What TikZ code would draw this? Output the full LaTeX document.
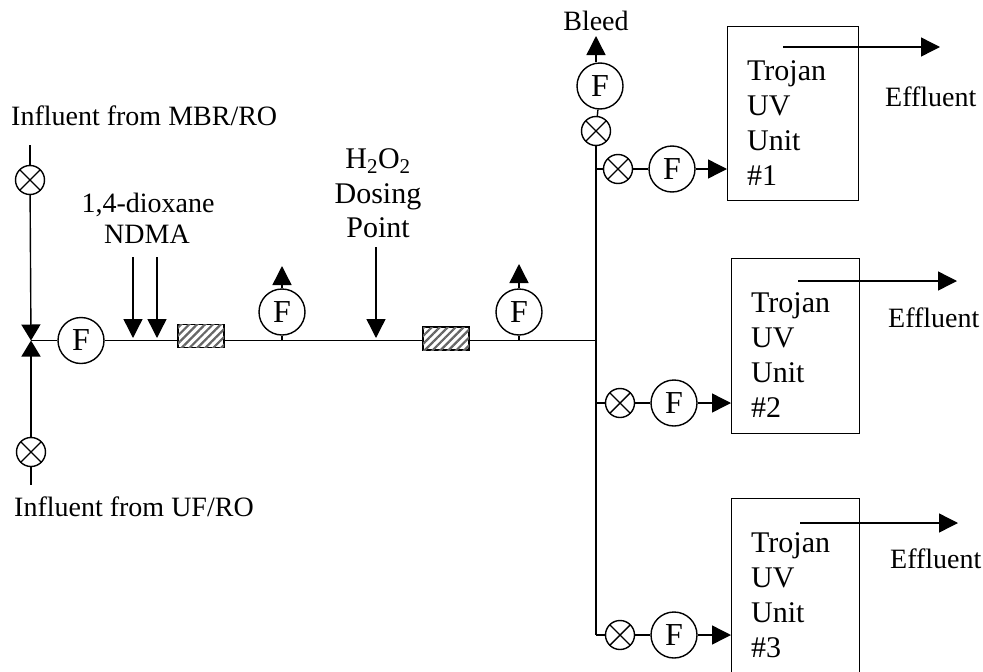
\documentclass[tikz,border=0pt]{standalone}
\usepackage{fontspec}
\setmainfont{Liberation Serif}
\usetikzlibrary{arrows.meta,patterns.meta}
\tikzset{
  pipe/.style={line width=1.4pt},
  flow/.style={pipe,-{Triangle[width=19pt,length=19pt]}},
  seat/.style={pipe,-{Triangle[width=19pt,length=16pt]}},
  fmeter/.style={circle,draw,line width=1.4pt,minimum size=46pt,inner sep=0pt,font=\fontsize{32}{34}\selectfont},
  xvalve/.style={circle,draw,line width=1.4pt,minimum size=29pt,inner sep=0pt,
    path picture={\draw[line width=1.4pt] (path picture bounding box.north west) -- (path picture bounding box.south east)
      (path picture bounding box.north east) -- (path picture bounding box.south west);}},
  mixer/.style={rectangle,draw,line width=1.4pt,minimum width=46pt,minimum height=23pt,inner sep=0pt,
    postaction={pattern={Lines[angle=45,distance=5.6pt,line width=2.2pt]},pattern color=black!60}},
  unitbox/.style={rectangle,draw,line width=1.4pt,anchor=north west,inner sep=0pt},
  unittext/.style={anchor=north west,align=left,inner sep=0pt,font=\fontsize{30}{35}\selectfont},
  lbl/.style={inner sep=0pt,font=\fontsize{28}{31}\selectfont},
  dosetext/.style={inner sep=0pt,align=center,font=\fontsize{30}{34}\selectfont}
}
\begin{document}
\begin{tikzpicture}[x=1pt,y=-1pt]
\useasboundingbox (0,0) rectangle (983,672);
\clip (0,0) rectangle (983,672);
% influent lines
\node[lbl,anchor=base west] (mbrlabel) at (11,125) {Influent from MBR/RO};
\node[lbl,anchor=base west] (uflabel) at (14,516) {Influent from UF/RO};
\coordinate (mbrtop) at (30,145);
\coordinate (ufend) at (31,485);
\node[xvalve] (mbrvalve) at (30,180) {};
\node[xvalve] (ufvalve) at (31,452) {};
\coordinate (junc) at (31,340.5);
\draw[pipe] (mbrtop) -- (mbrvalve);
\draw[pipe] (ufvalve) -- (ufend);
\draw[seat] (mbrvalve) -- (junc);
\draw[seat] (ufvalve) -- (junc);
% main line
\node[fmeter] (fma) at (81,340.5) {F};
\node[mixer] (mixa) at (201,336) {};
\node[fmeter] (fmb) at (282,312) {F};
\node[mixer] (mixb) at (446,338.5) {};
\node[fmeter] (fmc) at (519,312) {F};
\coordinate (tee) at (596,340.5);
\coordinate (dioxdrop) at (133,338);
\coordinate (ndmadrop) at (157,338);
\coordinate (dosedrop) at (376,338);
\coordinate (taponb) at (282,340.5);
\coordinate (taponc) at (519,340.5);
\draw[pipe] (junc) -- (fma);
\draw[pipe] (fma) -- (mixa.west |- fma);
\draw[pipe] (mixa.east |- taponb) -- (taponb);
\draw[pipe] (taponb) -- (mixb.west |- tee);
\draw[pipe] (mixb.east |- tee) -- (tee);
\draw[pipe] (taponb) -- (fmb);
\draw[pipe] (taponc) -- (fmc);
\coordinate (upb) at (282,266);
\coordinate (upc) at (519,264);
\draw[flow] (fmb) -- (upb);
\draw[flow] (fmc) -- (upc);
% dosing
\node[lbl,anchor=base,align=center] (dioxlabel) at (148,212) {1,4-dioxane};
\node[lbl,anchor=base,align=center] (ndmalabel) at (147,243) {NDMA};
\node[dosetext,anchor=base] (peroxlabel) at (378,168) {H\textsubscript{2}O\textsubscript{2}};
\node[dosetext,anchor=base] (doselabel) at (378,203) {Dosing};
\node[dosetext,anchor=base] (pointlabel) at (378,237) {Point};
\coordinate (dioxtop) at (133,257);
\coordinate (ndmatop) at (157,257);
\coordinate (dosetop) at (376,247);
\draw[flow] (dioxtop) -- (dioxdrop);
\draw[flow] (ndmatop) -- (ndmadrop);
\draw[flow] (dosetop) -- (dosedrop);
% bleed
\node[lbl,anchor=base] (bleedlabel) at (596,30) {Bleed};
\node[xvalve] (bleedvalve) at (596,131) {};
\node[fmeter] (bleedfm) at (600,86) {F};
\coordinate (bleedtop) at (596,36);
\coordinate (riserend) at (596,635);
\draw[pipe] (tee) -- (bleedvalve);
\draw[pipe] (tee) -- (riserend);
\draw[pipe] (bleedvalve) -- (bleedfm);
\draw[flow] (bleedfm.north -| bleedtop) -- (bleedtop);
% uv units
\foreach \n/\x/\y/\w/\h/\by/\vx/\fx/\sx/\sy/\ex/\lx/\ly in {1/727/26/131/174/169/618/672/783/47/940/885/106,2/731/258/128/175/403/620/674/798/281/957/888/327,3/731/498/128/190/635/620/674/800/523/958/890/568} {
  \node[unitbox,minimum width=\w pt,minimum height=\h pt] (unit\n) at (\x,\y) {};
  \node[unittext] (unittext\n) at (\x+20,\y+34) {Trojan\\UV\\Unit\\\#\n};
  \node[xvalve] (valve\n) at (\vx,\by) {};
  \node[fmeter] (fm\n) at (\fx,\by) {F};
  \coordinate (branch\n) at (596,\by);
  \coordinate (inlet\n) at (\x,\by);
  \draw[pipe] (branch\n) -- (valve\n);
  \draw[pipe] (valve\n) -- (fm\n);
  \draw[flow] (fm\n) -- (inlet\n);
  \coordinate (outa\n) at (\sx,\sy);
  \coordinate (outb\n) at (\ex,\sy);
  \draw[flow] (outa\n) -- (outb\n);
  \node[lbl,anchor=base west] (efflabel\n) at (\lx,\ly) {Effluent};
}
\end{tikzpicture}
\end{document}
